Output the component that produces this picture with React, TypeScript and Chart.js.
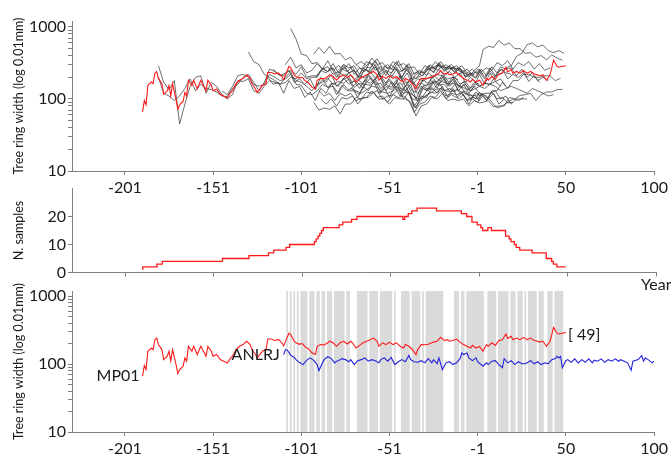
import React, { useEffect, useRef } from "react";
import { Chart, registerables } from "chart.js";

Chart.register(...registerables);

const FONT = "Lato, 'Liberation Sans', sans-serif";
Chart.defaults.font.family = FONT;
const AXIS_COLOR = "#808080";
const TEXT_COLOR = "#1a1a1a";
const RED = "#ff1a1a";
const BLUE = "#2222dd";
const GRAY_LINE = "rgba(55,55,55,0.72)";
const BAND_COLOR = "#dadada";

// ---- axes ----
const X_TICK_YEARS = [-201, -151, -101, -51, -1, 50, 100];
const X_FIRST = -231;
const X_LAST = 100;
const RW_TICKS = [10, 20, 30, 40, 50, 60, 70, 80, 90, 100, 200, 300, 400, 500, 600, 700, 800, 900, 1000];
const RW_LABELS = [10, 100, 1000];
const N_TICKS = [0, 10, 20];
// calendar years have no year 0
const toX = (year: number) => (year > 0 ? year - 1 : year);

// ---- mean chronology MP01 (year, width) ----
const RED_SERIES: [number, number][] = [
  [-191, 66], [-190, 95], [-189, 83], [-188, 154], [-186, 172], [-185, 163], [-184, 228], [-183, 241], [-182, 193],
  [-180, 163], [-179, 116], [-177, 130], [-176, 154], [-175, 110], [-174, 163], [-172, 98], [-171, 72], [-170, 83],
  [-168, 93], [-167, 123], [-166, 110], [-165, 182], [-163, 154], [-162, 182], [-160, 138], [-158, 182], [-157, 163],
  [-155, 130], [-154, 182], [-152, 154], [-151, 130], [-149, 138], [-147, 116], [-145, 110], [-143, 103], [-141, 123],
  [-140, 130], [-138, 163], [-136, 182], [-134, 193], [-132, 216], [-130, 193], [-129, 163], [-127, 138], [-126, 123],
  [-123, 154], [-121, 163], [-120, 233], [-118, 233], [-116, 222], [-114, 230], [-112, 205], [-111, 185], [-110, 215],
  [-108, 284], [-107, 270], [-105, 216], [-104, 205], [-102, 195], [-101, 200], [-100, 195], [-99, 180], [-97, 168],
  [-95, 146], [-93, 138], [-92, 182], [-90, 193], [-88, 190], [-86, 205], [-85, 216], [-83, 205], [-81, 182],
  [-79, 205], [-77, 216], [-75, 197], [-73, 216], [-72, 205], [-70, 172], [-68, 188], [-66, 205], [-64, 216],
  [-62, 228], [-60, 241], [-58, 216], [-57, 182], [-55, 205], [-53, 193], [-51, 210], [-49, 193], [-47, 205],
  [-45, 182], [-43, 172], [-42, 193], [-40, 182], [-38, 163], [-36, 138], [-35, 163], [-33, 193], [-31, 192],
  [-29, 195], [-27, 205], [-26, 210], [-24, 216], [-22, 247], [-20, 222], [-18, 228], [-17, 216], [-15, 222],
  [-13, 233], [-11, 210], [-9, 193], [-7, 182], [-5, 172], [-4, 188], [-2, 172], [1, 182], [3, 154], [5, 193],
  [6, 182], [8, 205], [10, 188], [12, 222], [14, 228], [16, 276], [17, 237], [19, 256], [20, 228], [22, 241],
  [24, 228], [26, 247], [28, 228], [30, 241], [32, 222], [34, 216], [35, 210], [37, 216], [39, 182], [41, 216],
  [42, 270], [43, 345], [45, 284], [46, 276], [48, 284], [50, 290],
];

// ---- reference chronology ANLRJ (year, width) ----
const BLUE_SERIES: [number, number][] = [
  [-111, 138], [-110, 163], [-109, 160], [-108, 148], [-107, 135], [-105, 125], [-104, 116], [-102, 105], [-100, 98],
  [-98, 113], [-96, 123], [-94, 113], [-92, 98], [-91, 80], [-89, 104], [-88, 116], [-86, 128], [-84, 120], [-82, 104],
  [-81, 110], [-80, 112], [-78, 120], [-76, 116], [-74, 108], [-73, 116], [-71, 98], [-69, 112], [-67, 116], [-65, 123],
  [-63, 110], [-61, 116], [-59, 112], [-57, 104], [-56, 116], [-54, 123], [-52, 110], [-50, 125], [-48, 98], [-46, 108],
  [-44, 116], [-42, 108], [-40, 134], [-39, 116], [-37, 108], [-35, 106], [-33, 112], [-31, 104], [-29, 120], [-27, 104],
  [-26, 116], [-24, 101], [-23, 123], [-21, 83], [-19, 104], [-17, 108], [-15, 98], [-13, 104], [-11, 120], [-10, 145],
  [-9, 138], [-7, 145], [-6, 123], [-4, 112], [-2, 123], [-1, 108], [3, 93], [5, 104], [6, 98], [8, 110], [10, 112],
  [12, 98], [14, 88], [15, 120], [17, 104], [19, 112], [21, 98], [23, 108], [25, 101], [27, 101], [29, 108], [30, 112],
  [32, 101], [34, 108], [36, 98], [38, 104], [40, 101], [42, 116], [44, 120], [45, 130], [46, 123], [47, 130], [48, 88],
  [50, 112], [51, 116], [53, 106], [55, 119], [57, 104], [59, 116], [61, 106], [63, 119], [65, 104], [66, 114], [68, 110],
  [70, 119], [72, 106], [74, 116], [76, 110], [78, 119], [80, 110], [81, 116], [83, 110], [85, 104], [87, 81], [88, 110],
  [91, 116], [93, 133], [94, 110], [95, 123], [97, 114], [99, 104], [100, 110],
];

// ---- sample depth (year where count changes, count) ----
const N_SERIES: [number, number][] = [
  [-191, 1], [-183, 2], [-180, 3], [-146, 4], [-131, 5], [-120, 6], [-117, 7], [-110, 8], [-108, 9], [-94, 10],
  [-93, 11], [-92, 12], [-91, 13], [-90, 14], [-89, 15], [-80, 16], [-78, 17], [-73, 18], [-70, 19], [-44, 20],
  [-43, 19], [-41, 20], [-39, 21], [-36, 22], [-25, 23], [-11, 22], [-8, 21], [-5, 20], [-2, 18], [1, 17], [2, 16],
  [5, 15], [7, 16], [15, 15], [17, 13], [18, 12], [20, 11], [21, 10], [23, 9], [30, 8], [38, 7], [41, 5], [42, 4],
  [44, 3], [48, 2], [49, 2],
];

// ---- individual sample series: values every 3 years from the start year ----
const SERIES_STEP = 3;
const G01_START = -182;
const G01 = [290, 170, 135, 180, 45, 85, 150, 200, 210, 120, 170, 150, 115, 100, 115, 180, 175, 190, 130, 120, 150, 180, 170, 160, 200, 240, 160, 155, 120, 115, 130, 160, 145, 150, 120, 160, 130, 130, 115, 160, 155, 175, 120, 150, 135, 170, 110, 140, 100, 95, 110, 140, 135, 170, 130, 140, 125, 155, 120, 115, 100, 125];
const G02_START = -182;
const G02 = [200, 120, 110, 95, 110, 140, 190, 130, 160, 140, 135, 125, 110, 108, 140, 160, 200, 220, 170, 130, 170, 260, 240, 210, 230, 250, 220, 280, 200, 210, 210, 260, 240, 270, 200, 280, 230, 250, 190, 260, 240, 300, 220, 250, 230, 280, 200, 260, 185, 200, 215, 260, 240, 300, 250, 270, 240, 260, 205, 215, 195, 235, 190, 245, 200, 260, 230, 220];
const G03_START = -146;
const G03 = [130, 115, 150, 210, 220, 200, 160, 150, 160, 220, 200, 180, 190, 220, 180, 170, 150, 130, 160, 170, 195, 160, 175, 165, 190, 145, 165, 155, 195, 160, 165, 130, 170, 145, 140, 125, 115, 95, 140, 130, 170, 155, 160, 130, 160, 120, 130, 100, 125, 110, 120, 120, 130, 100, 110, 85, 100, 100, 100];
const G04_START = -131;
const G04 = [450, 330, 300, 220, 200, 180, 160, 170, 200, 190, 230, 190, 200, 200, 270, 240, 310, 230, 300, 270, 290, 220, 280, 270, 340, 250, 280, 260, 330, 240, 300, 220, 240, 230, 290, 260, 320, 270, 280, 260, 270, 210, 230, 200, 260, 200, 270, 210, 280, 260, 270, 210, 260, 200, 230, 180, 200, 180];
const G05_START = -120;
const G05 = [200, 160, 170, 120, 180, 140, 150, 105, 125, 95, 140, 120, 165, 115, 155, 130, 145, 105, 150, 130, 175, 120, 145, 105, 150, 110, 155, 105, 75, 110, 105, 145, 120, 150, 105, 140, 100, 115, 85, 115, 95, 115, 100, 120, 85, 100];
const G06_START = -117;
const G06 = [260, 220, 210, 250, 170, 190, 160, 190, 135, 200, 170, 220, 150, 180, 200, 150, 170, 140, 210, 170, 220, 150, 180, 140, 170, 130, 160, 100, 150, 130, 180, 140, 200, 150, 190, 130, 160, 120, 150, 120];
const G07_START = -110;
const G07 = [300, 380, 270, 300, 230, 250, 310, 260, 340, 250, 290, 260, 310, 220, 270, 240, 330, 250, 280, 210, 300, 250, 200, 280, 190, 230, 210, 280, 230, 310, 240, 290, 230, 270, 200, 230];
const G08_START = -107;
const G08 = [950, 680, 420, 400, 310, 320, 260, 280, 220, 240, 210, 230, 185, 210, 195, 240, 195, 210, 165, 215, 190, 200, 170, 175, 140, 185, 165, 210, 185, 205, 165, 200, 160, 175, 140, 170, 150, 165, 160, 175, 150];
const G09_START = -94;
const G09 = [420, 520, 430, 540, 420, 430, 350, 380, 300, 330, 290, 370, 300, 320, 260, 330, 290, 310, 270, 280, 220, 290, 260, 330, 270, 300, 260, 290, 230, 260, 210, 260, 240, 270, 250, 320, 290, 340, 260, 320, 290, 330, 260, 310, 250, 270];
const G10_START = -93;
const G10 = [200, 250, 230, 270, 200, 260, 240, 280, 200, 270, 240, 310, 230, 260, 210, 270, 240, 260, 220, 190, 240, 215, 280, 250, 290, 230, 280, 215, 250, 200, 250, 290, 480, 540, 520, 650, 560, 600, 500, 500, 430, 440, 380, 400, 350, 410, 370, 345];
const G11_START = -92;
const G11 = [150, 185, 145, 165, 150, 195, 160, 180, 140, 185, 165, 190, 140, 160, 145, 185, 130, 160, 115, 100, 150, 135, 180, 160, 190, 150, 180, 145, 160, 130, 160, 150, 165, 160, 210, 220, 270, 290, 390, 430, 570, 600, 530, 560, 470, 440, 470, 430];
const G12_START = -91;
const G12 = [130, 110, 120, 95, 120, 110, 120, 95, 100, 105, 130, 105, 110, 90, 115, 105, 110, 95, 65, 85, 90, 110, 105, 130, 100, 115, 105, 120, 95, 100, 90, 115, 95, 130, 130, 170, 140, 180, 180, 220, 220, 200, 200, 210, 210, 180, 194];
const G13_START = -90;
const G13 = [100, 85, 100, 80, 105, 100, 110, 85, 105, 105, 125, 100, 100, 85, 105, 100, 100, 90, 58, 80, 85, 105, 100, 120, 95, 100, 95, 100, 80, 95, 88, 90, 95, 78, 80, 80, 105, 100, 112, 115, 120, 95, 115, 125, 125, 135, 136];
const G14_START = -94;
const G14 = [90, 70, 75, 72, 80, 62, 85, 85, 105, 100, 125, 120, 130, 100, 110, 115, 135, 100, 125, 80, 100, 105, 125, 120, 140, 110, 120, 115, 120, 98, 105, 100, 120, 95, 125, 100, 105, 88, 90];
const G15_START = -80;
const G15 = [250, 300, 230, 250, 200, 260, 230, 280, 200, 240, 200, 260, 180, 230, 160, 190, 180, 230, 200, 260, 210, 240, 200, 230, 170, 200, 170, 220, 160, 230, 175, 190, 150];
const G16_START = -78;
const G16 = [180, 220, 170, 190, 160, 220, 180, 230, 160, 190, 155, 210, 150, 195, 125, 165, 150, 200, 170, 215, 160, 205, 150, 175, 135, 170, 160];
const G17_START = -73;
const G17 = [140, 130, 120, 135, 150, 145, 125, 120, 130, 140, 120, 125, 75, 90, 110, 120, 135, 140, 130, 125, 135, 125, 115, 110, 115, 120, 110, 90, 75, 80, 90, 100, 95, 105];
const G18_START = -70;
const G18 = [300, 260, 330, 300, 360, 270, 300, 250, 340, 250, 310, 220, 250, 230, 300, 260, 330, 270, 300, 260, 290, 230, 260, 220, 260, 210, 280, 230, 260, 190, 220, 200, 230, 175, 210, 170];
const G19_START = -44;
const G19 = [160, 170, 130, 120, 150, 160, 170, 180, 170, 160, 165, 150, 140, 130, 140, 150, 140, 160, 150, 130, 140, 150, 140, 130, 120, 140, 130, 120, 110, 115];
const G20_START = -39;
const G20 = [200, 150, 170, 190, 200, 220, 210, 190, 200, 185];
const G21_START = -30;
const G21 = [250, 270, 290, 280, 260, 270, 250, 230, 220, 230, 240, 220];

const SAMPLES: [number, number[]][] = [
  [G01_START, G01], [G02_START, G02], [G03_START, G03], [G04_START, G04], [G05_START, G05], [G06_START, G06],
  [G07_START, G07], [G08_START, G08], [G09_START, G09], [G10_START, G10], [G11_START, G11], [G12_START, G12],
  [G13_START, G13], [G14_START, G14], [G15_START, G15], [G16_START, G16], [G17_START, G17], [G18_START, G18],
  [G19_START, G19], [G20_START, G20], [G21_START, G21],
];

// ---- years highlighted in the bottom panel (grey bands) ----
const BAND_FIRST = -109;
const BAND_LAST = 48;
const BAND_GAP_YEARS = [-108, -106, -104, -102, -97, -93, -90, -87, -83, -76, -73, -72, -71, -70, -63, -57, -49, -47, -46, -45,
  -39, -33, -31, -20, -19, -18, -17, -16, -15, -11, -8, 4, 5, 11, 18, 22, 26, 28, 34, 38, 39, 43];

const pairsToXY = (pairs: [number, number][]) => pairs.map(([yr, v]) => ({ x: toX(yr), y: v }));

function xAxis(height: number, showLabels: boolean) {
  return {
    type: "linear" as const,
    min: toX(X_FIRST),
    max: toX(X_LAST),
    afterBuildTicks: (s: any) => {
      s.ticks = X_TICK_YEARS.map((y) => ({ value: toX(y) }));
    },
    afterFit: (s: any) => {
      s.height = height;
    },
    ticks: {
      display: showLabels,
      autoSkip: false,
      maxRotation: 0,
      padding: 3,
      color: TEXT_COLOR,
      font: { family: FONT, size: 16 },
      callback: (v: any) => {
        const i = X_TICK_YEARS.findIndex((y) => toX(y) === v);
        return i >= 0 ? String(X_TICK_YEARS[i]) : "";
      },
    },
    grid: { display: true, drawOnChartArea: false, drawTicks: true, tickLength: 4, tickColor: AXIS_COLOR, tickWidth: 1 },
    border: { display: true, color: AXIS_COLOR, width: 1 },
  };
}

function rwAxis(max: number) {
  return {
    type: "logarithmic" as const,
    min: 10,
    max,
    afterBuildTicks: (s: any) => {
      s.ticks = RW_TICKS.map((v) => ({ value: v }));
    },
    afterFit: (s: any) => {
      s.width = 72;
    },
    ticks: {
      autoSkip: false,
      padding: 2,
      color: TEXT_COLOR,
      font: { family: FONT, size: 16 },
      callback: (v: any) => (RW_LABELS.includes(Number(v)) ? String(v) : ""),
    },
    grid: { display: true, drawOnChartArea: false, drawTicks: true, tickLength: 4, tickColor: AXIS_COLOR, tickWidth: 1 },
    border: { display: true, color: AXIS_COLOR, width: 1 },
  };
}

function yTitlePlugin(text: string) {
  return {
    id: "ytitle",
    afterDraw(chart: any) {
      const { ctx, chartArea } = chart;
      ctx.save();
      ctx.translate(19, (chartArea.top + chartArea.bottom) / 2);
      ctx.rotate(-Math.PI / 2);
      ctx.font = `12.5px ${FONT}`;
      ctx.fillStyle = TEXT_COLOR;
      ctx.textAlign = "center";
      ctx.textBaseline = "middle";
      ctx.fillText(text, 0, 0);
      ctx.restore();
    },
  };
}

const baseOptions = {
  animation: false as const,
  responsive: false,
  devicePixelRatio: 1,
  events: [] as any[],
  plugins: { legend: { display: false }, tooltip: { enabled: false } },
  elements: { point: { radius: 0 }, line: { borderWidth: 1, tension: 0 } },
};

function topConfig(): any {
  const grays = SAMPLES.map(([start, vals]) => ({
    data: vals.map((v, i) => ({ x: toX(start + SERIES_STEP * i), y: v })),
    borderColor: GRAY_LINE,
    borderWidth: 1,
  }));
  return {
    type: "line",
    data: {
      datasets: [{ data: pairsToXY(RED_SERIES), borderColor: RED, borderWidth: 1.1 }, ...grays],
    },
    options: {
      ...baseOptions,
      layout: { padding: { top: 21, right: 15, left: 0, bottom: 0 } },
      scales: { x: xAxis(29, true), y: rwAxis(1210) },
    },
    plugins: [yTitlePlugin("Tree ring width (log 0.01mm)")],
  };
}

function midConfig(): any {
  return {
    type: "line",
    data: {
      datasets: [{ data: pairsToXY(N_SERIES), borderColor: RED, borderWidth: 1.3, stepped: "after" }],
    },
    options: {
      ...baseOptions,
      layout: { padding: { top: 14.5, right: 15, left: 0, bottom: 0 } },
      scales: {
        x: xAxis(27.5, false),
        y: {
          type: "linear",
          min: 0,
          max: 30,
          afterBuildTicks: (s: any) => {
            s.ticks = N_TICKS.map((v) => ({ value: v }));
          },
          afterFit: (s: any) => {
            s.width = 72;
          },
          ticks: { autoSkip: false, padding: 2, color: TEXT_COLOR, font: { family: FONT, size: 16 } },
          grid: { display: true, drawOnChartArea: false, drawTicks: true, tickLength: 4, tickColor: AXIS_COLOR },
          border: { display: true, color: AXIS_COLOR, width: 1 },
        },
      },
    },
    plugins: [
      yTitlePlugin("N. samples"),
      {
        id: "yearLabel",
        afterDraw(chart: any) {
          const { ctx, chartArea } = chart;
          ctx.save();
          ctx.font = `16px ${FONT}`;
          ctx.fillStyle = TEXT_COLOR;
          ctx.textAlign = "left";
          ctx.textBaseline = "middle";
          ctx.fillText("Year", chartArea.right - 15, chartArea.bottom + 12.5);
          ctx.restore();
        },
      },
    ],
  };
}

function bottomConfig(): any {
  const bandPlugin = {
    id: "bands",
    beforeDatasetsDraw(chart: any) {
      const { ctx, chartArea, scales } = chart;
      const runs: [number, number][] = [];
      let runStart: number | null = null;
      let prev = 0;
      for (let yr = BAND_FIRST; yr <= BAND_LAST; yr++) {
        if (yr === 0) continue;
        const on = !BAND_GAP_YEARS.includes(yr);
        if (on && runStart === null) runStart = yr;
        if (!on && runStart !== null) {
          runs.push([runStart, prev]);
          runStart = null;
        }
        prev = yr;
      }
      if (runStart !== null) runs.push([runStart, prev]);
      ctx.save();
      ctx.fillStyle = BAND_COLOR;
      for (const [a, b] of runs) {
        const x0 = scales.x.getPixelForValue(toX(a) - 0.5);
        const x1 = scales.x.getPixelForValue(toX(b) + 0.5);
        ctx.fillRect(x0, chartArea.top, x1 - x0, chartArea.bottom - chartArea.top);
      }
      ctx.restore();
    },
  };
  const labelPlugin = {
    id: "seriesLabels",
    afterDatasetsDraw(chart: any) {
      const { ctx } = chart;
      const red = chart.getDatasetMeta(0).data;
      const blue = chart.getDatasetMeta(1).data;
      ctx.save();
      ctx.font = `16px ${FONT}`;
      ctx.fillStyle = TEXT_COLOR;
      ctx.textBaseline = "middle";
      ctx.textAlign = "right";
      ctx.fillText("MP01", red[0].x - 3, red[0].y);
      ctx.fillText("ANLRJ", blue[0].x - 4, blue[0].y);
      ctx.textAlign = "left";
      const last = red[red.length - 1];
      ctx.fillText("[ 49]", last.x + 2, last.y + 2);
      ctx.restore();
    },
  };
  return {
    type: "line",
    data: {
      datasets: [
        { data: pairsToXY(RED_SERIES), borderColor: RED, borderWidth: 1.1 },
        { data: pairsToXY(BLUE_SERIES), borderColor: BLUE, borderWidth: 1.1 },
      ],
    },
    options: {
      ...baseOptions,
      layout: { padding: { top: 14, right: 15, left: 0, bottom: 0 } },
      scales: { x: xAxis(23, true), y: rwAxis(1185) },
    },
    plugins: [bandPlugin, labelPlugin, yTitlePlugin("Tree ring width (log 0.01mm)")],
  };
}

function Panel({ top, height, make }: { top: number; height: number; make: () => any }) {
  const ref = useRef<HTMLCanvasElement | null>(null);
  useEffect(() => {
    if (!ref.current) return;
    const chart = new Chart(ref.current, make());
    return () => chart.destroy();
  }, []);
  return (
    <canvas
      ref={ref}
      width={671}
      height={height}
      style={{ position: "absolute", left: 0, top, width: 671, height }}
    />
  );
}

export default function App() {
  return (
    <div style={{ position: "absolute", left: 0, top: 0, width: 671, height: 455, background: "#ffffff", overflow: "hidden" }}>
      <Panel top={0} height={200} make={topConfig} />
      <Panel top={174} height={126} make={midConfig} />
      <Panel top={277} height={178} make={bottomConfig} />
    </div>
  );
}
